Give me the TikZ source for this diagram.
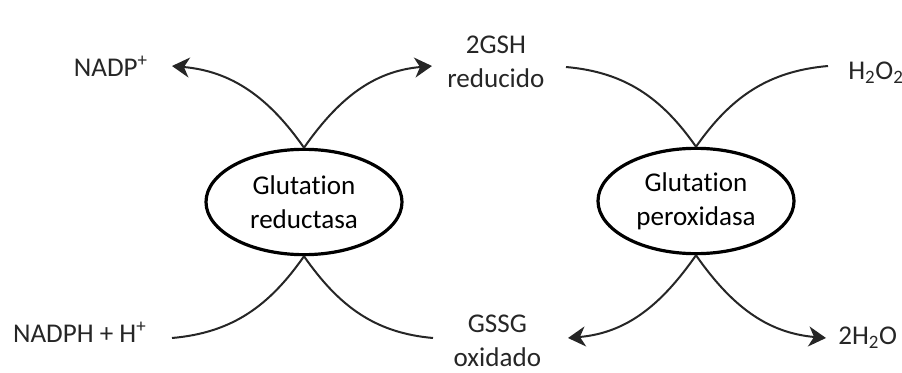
\documentclass[tikz,border=0pt]{standalone}
\usepackage{fontspec}
\setmainfont{Carlito}[Ligatures=NoCommon]
\usetikzlibrary{positioning,shapes.geometric,arrows.meta}

\begin{document}
\begin{tikzpicture}[x=0.75pt,y=0.75pt,
  font=\fontsize{20.3}{25.5}\selectfont,
  enzima/.style={ellipse,draw,line width=2.4pt,minimum width=147pt,minimum height=79pt,inner sep=0pt,align=center},
  flujo/.style={line width=1.5pt,draw=black!85},
  flecha/.style={flujo,-{Stealth[length=13pt,width=15pt,inset=4pt]}},
  especie/.style={align=center,inner sep=0pt,text=black!85}]
\useasboundingbox (0,0) rectangle (902,372);
% enzimas
\node[enzima] (gr) at (304,170) {Glutation\\reductasa};
\node[enzima] (gpx) at (696,171) {Glutation\\peroxidasa};
% extremos libres
\coordinate (a1) at (172,306);
\coordinate (a2) at (432,306);
\coordinate (b1) at (566,305);
\coordinate (b2) at (828,306);
\coordinate (c1) at (172,34);
\coordinate (c2) at (433,34);
\coordinate (d1) at (568,34);
\coordinate (d2) at (826,34);
% especies
\node[especie,left=18pt of a1] (nadp) {NADP\textsuperscript{+}};
\node[especie,left=16pt of b1,yshift=4pt] (gsh) {2GSH\\reducido};
\node[especie,right=15pt of b2,yshift=-5pt] (hoo) {H\textsubscript{2}O\textsubscript{2}};
\node[especie,left=19pt of c1,yshift=4pt] (nadph) {NADPH + H\textsuperscript{+}};
\node[especie,left=20pt of d1,yshift=-2pt] (gssg) {GSSG\\oxidado};
\node[especie,right=9pt of d2] (agua) {2H\textsubscript{2}O};
% reacciones
\draw[flecha] (gr.north) to[out=125,in=-5] (a1);
\draw[flecha] (gr.north) to[out=55,in=185] (a2);
\draw[flujo] (gpx.north) to[out=125,in=-5] (b1);
\draw[flujo] (gpx.north) to[out=55,in=185] (b2);
\draw[flujo] (gr.south) to[out=235,in=5] (c1);
\draw[flujo] (gr.south) to[out=-55,in=175] (c2);
\draw[flecha] (gpx.south) to[out=235,in=5] (d1);
\draw[flecha] (gpx.south) to[out=-55,in=175] (d2);
\end{tikzpicture}
\end{document}
